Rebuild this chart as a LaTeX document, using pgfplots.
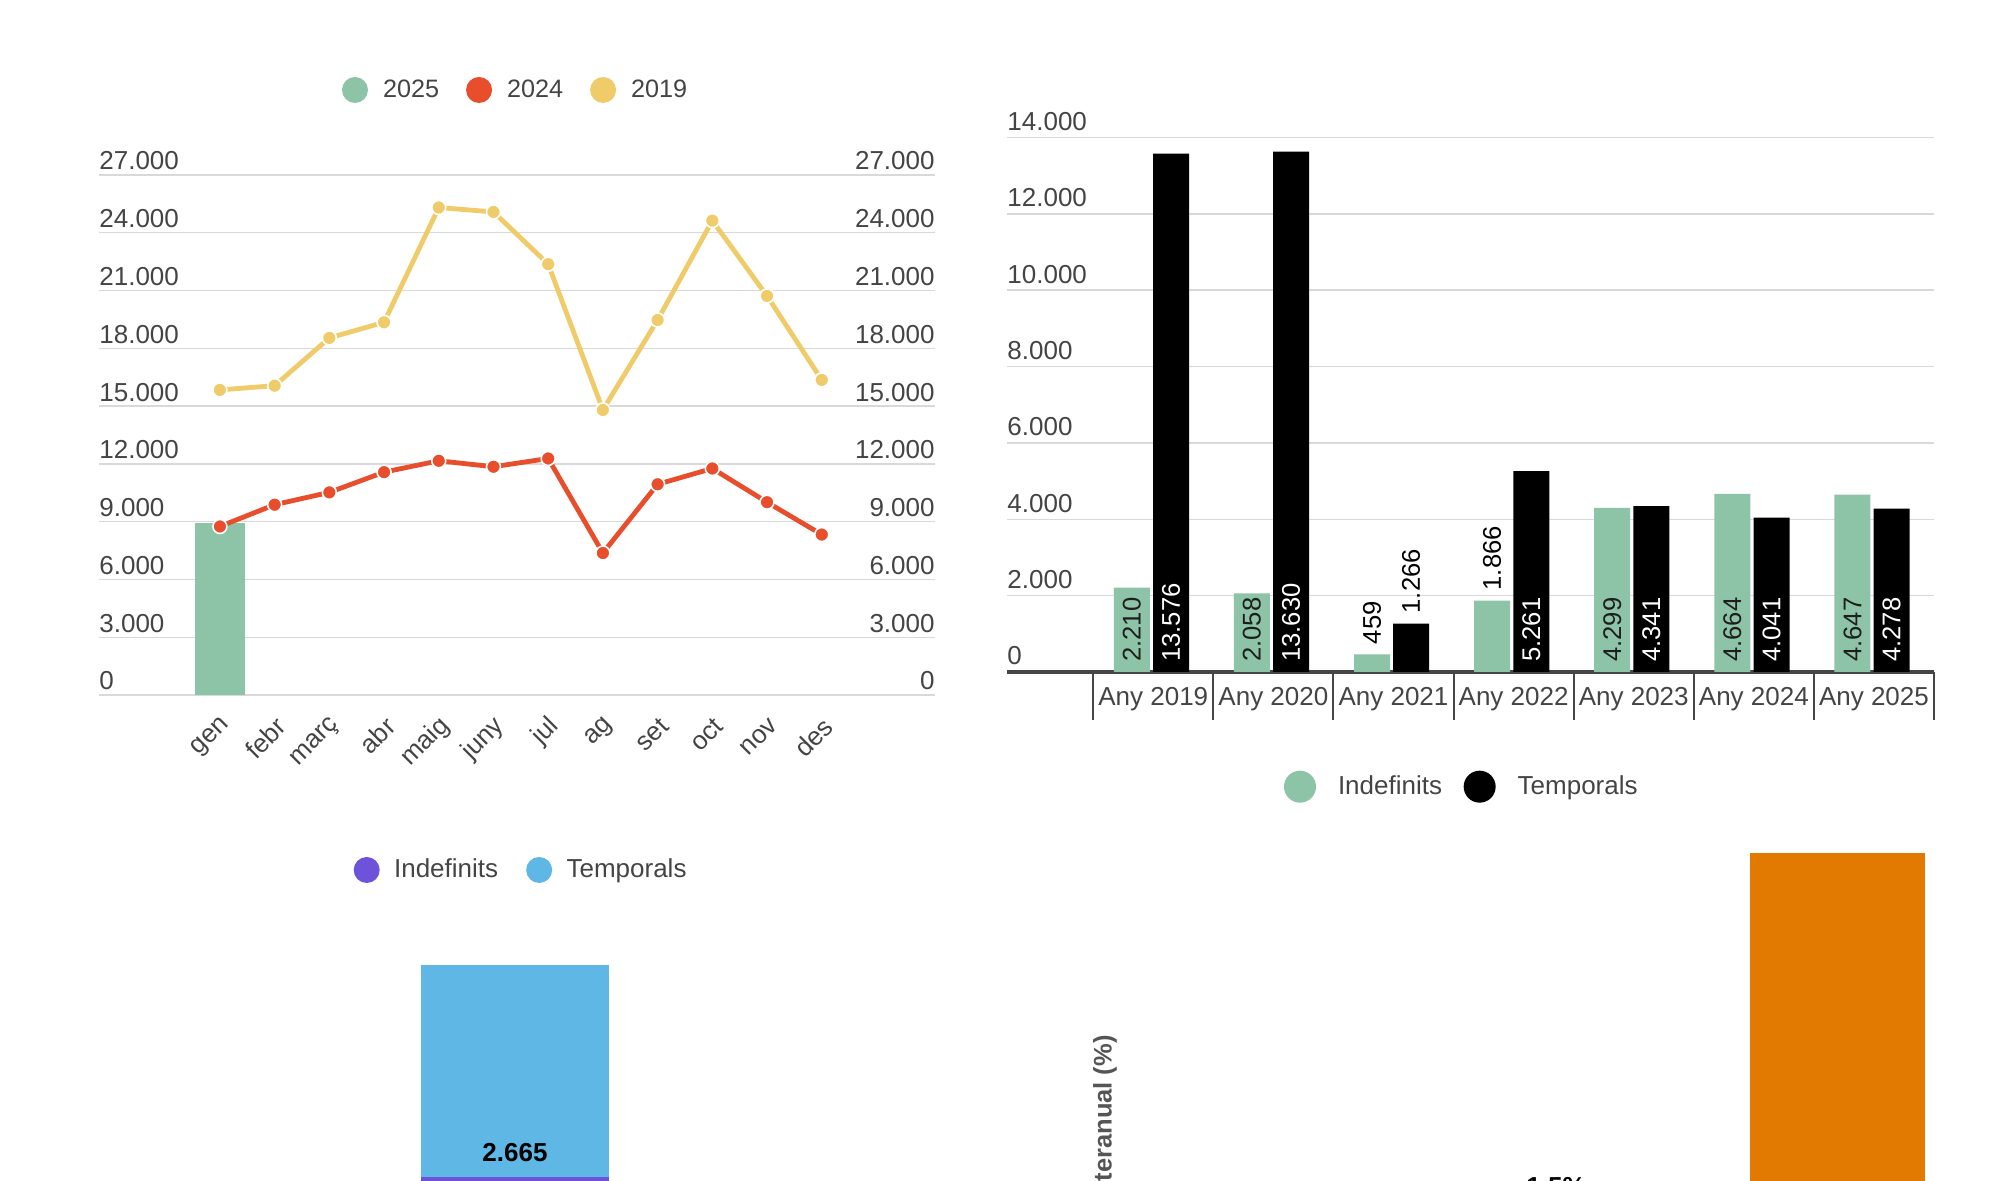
\documentclass[border=0pt]{standalone}
\usepackage{pgfplots}
\pgfplotsset{compat=1.18}
\usepackage{pgfplotstable}
\usepackage{fontspec}
\setmainfont{Liberation Sans}
\definecolor{cgreen}{HTML}{8DC3A7}
\definecolor{cred}{HTML}{E84E2C}
\definecolor{cyellow}{HTML}{F0CB69}
\definecolor{cpurple}{HTML}{6E52D9}
\definecolor{cblue}{HTML}{5EB7E5}
\definecolor{corange}{HTML}{E27900}
\definecolor{cgrid}{HTML}{D9D9D9}
\definecolor{ctext}{HTML}{444444}
\definecolor{caxis}{HTML}{454545}
\definecolor{clabel}{HTML}{1E1E1E}
\definecolor{cylab}{HTML}{555555}
\newcommand{\fs}[1]{\fontsize{#1}{#1}\selectfont}

\pgfplotstableread{
x y19 y24
0 15840 8750
1 16060 9880
2 18540 10520
3 19350 11570
4 25310 12160
5 25080 11850
6 22370 12280
7 14800 7370
8 19470 10940
9 24630 11760
10 20720 10010
11 16360 8330
}\monthly

% bar labels: one unit on the x axis of the yearly chart is 60.05pt,
% so the bar offsets -10.75pt and +8.85pt are -0.179 and +0.147 units
\pgfplotsset{
  barlab/.style={draw=none, mark=none, forget plot,
    point meta=explicit symbolic, nodes near coords,
    nodes near coords style={anchor=west, inner sep=0pt, inner xsep=5pt, font=\fs{12.8pt}, rotate=90}},
  greenpos/.style={x filter/.expression={x-0.179}},
  blackpos/.style={x filter/.expression={x+0.147}},
}

\begin{document}
\begin{tikzpicture}
\useasboundingbox (0,0) rectangle (997pt,590.5pt);
\clip (0,0) rectangle (997pt,590.5pt);

% ---------------- top left: monthly lines ----------------
\begin{axis}[
  scale only axis, width=418pt, height=260pt,
  at={(49.5pt,243pt)}, anchor=south west,
  xmin=-2.21, xmax=13.07, ymin=0, ymax=27000,
  axis line style={draw=none},
  major tick length=0pt,
  scaled y ticks=false,
  ytick={0,3000,...,27000},
  yticklabels={0,3.000,6.000,9.000,12.000,15.000,18.000,21.000,24.000,27.000},
  ymajorgrids, grid style={cgrid, line width=0.7pt},
  yticklabel style={anchor=base west, inner sep=0pt, yshift=2.5pt, font=\fs{13pt}, text=ctext},
  xtick={0,...,11},
  xticklabels={gen,febr,març,abr,maig,juny,jul,ag,set,oct,nov,des},
  xticklabel style={inner sep=0pt, font=\fs{13pt}, text=ctext, anchor=east, xshift=3.5pt, yshift=-13.5pt, rotate=45},
  clip=false,
]
\addplot[ybar, bar width=25pt, bar shift=0pt, fill=cgreen, draw=none] coordinates {(0,8925)};
\addplot[cyellow, line width=2.4pt, mark=*, mark size=3.5pt,
  mark options={solid, fill=cyellow, draw=white, line width=0.8pt}] table[x=x, y=y19] {\monthly};
\addplot[cred, line width=2.4pt, mark=*, mark size=3.5pt,
  mark options={solid, fill=cred, draw=white, line width=0.8pt}] table[x=x, y=y24] {\monthly};
\end{axis}

% right-side tick labels of the top-left chart
\begin{axis}[
  scale only axis, width=418pt, height=260pt,
  at={(49.5pt,243pt)}, anchor=south west,
  xmin=-2.21, xmax=13.07, ymin=0, ymax=27000,
  axis line style={draw=none}, major tick length=0pt,
  scaled y ticks=false,
  xtick=\empty,
  ytick={0,3000,...,27000},
  yticklabels={0,3.000,6.000,9.000,12.000,15.000,18.000,21.000,24.000,27.000},
  yticklabel pos=right,
  yticklabel style={anchor=base east, inner sep=0pt, yshift=2.5pt, font=\fs{13pt}, text=ctext},
]
\addplot[draw=none] coordinates {(0,0)};
\end{axis}

% legend top left
\begin{axis}[hide axis, scale only axis, width=10pt, height=10pt,
  at={(171pt,545.5pt)}, anchor=west, xmin=0, xmax=1, ymin=0, ymax=1,
  legend columns=-1,
  legend image code/.code={\fill[#1, draw=none] (6.5pt,0pt) circle (6.5pt);},
  legend style={at={(0,0.5)}, anchor=west, draw=none, fill=none, inner sep=0pt, outer sep=0pt,
    nodes={inner sep=0pt, text=ctext, font=\fs{12.6pt}},
    /tikz/every odd column/.append style={column sep=7.5pt},
    /tikz/every even column/.append style={column sep=13.5pt}},
]
\addlegendimage{fill=cgreen}\addlegendentry{2025}
\addlegendimage{fill=cred}\addlegendentry{2024}
\addlegendimage{fill=cyellow}\addlegendentry{2019}
\end{axis}

% ---------------- top right: yearly bars ----------------
\begin{axis}[
  scale only axis, width=463.5pt, height=267.25pt,
  at={(503.5pt,254.5pt)}, anchor=south west,
  xmin=-1.218, xmax=6.5, ymin=0, ymax=14000,
  axis line style={draw=none},
  major tick length=0pt,
  scaled y ticks=false,
  xtick pos=left, ytick pos=left,
  ytick={2000,4000,...,14000},
  yticklabels={2.000,4.000,6.000,8.000,10.000,12.000,14.000},
  ymajorgrids, grid style={cgrid, line width=0.7pt},
  yticklabel style={anchor=base west, inner sep=0pt, yshift=3.5pt, font=\fs{13pt}, text=ctext},
  extra y ticks={0}, extra y tick labels={0},
  extra y tick style={ymajorgrids=true, major grid style={caxis, line width=1.6pt}},
  xtick={0,...,6},
  xticklabels={Any 2019,Any 2020,Any 2021,Any 2022,Any 2023,Any 2024,Any 2025},
  xticklabel style={anchor=north, inner sep=0pt, yshift=-7.35pt, font=\fs{13pt}, text=ctext},
  extra x ticks={-0.5,0.5,...,6.5}, extra x tick labels={},
  extra x tick style={major tick length=24pt, tick align=outside, tick style={caxis, line width=1pt}},
  clip=false,
]
\addplot[ybar, bar width=18pt, bar shift=-10.75pt, fill=cgreen, draw=none]
  coordinates {(0,2210) (1,2058) (2,459) (3,1866) (4,4299) (5,4664) (6,4647)};
\addplot[ybar, bar width=18pt, bar shift=8.85pt, fill=black, draw=none]
  coordinates {(0,13576) (1,13630) (2,1266) (3,5261) (4,4341) (5,4041) (6,4278)};
% value labels inside the bars (written from the base of the bar)
\addplot[barlab, greenpos, nodes near coords style={text=clabel}]
  coordinates {(0,0) [2.210] (1,0) [2.058] (4,0) [4.299] (5,0) [4.664] (6,0) [4.647]};
\addplot[barlab, blackpos, nodes near coords style={text=white}]
  coordinates {(0,0) [13.576] (1,0) [13.630] (3,0) [5.261] (4,0) [4.341] (5,0) [4.041] (6,0) [4.278]};
% value labels above the small bars
\addplot[barlab, greenpos, nodes near coords style={text=black}]
  coordinates {(2,459) [459] (3,1866) [1.866]};
\addplot[barlab, blackpos, nodes near coords style={text=black}]
  coordinates {(2,1266) [1.266]};
\end{axis}

% legend top right
\begin{axis}[hide axis, scale only axis, width=10pt, height=10pt,
  at={(642pt,197.15pt)}, anchor=west, xmin=0, xmax=1, ymin=0, ymax=1,
  legend columns=-1,
  legend image code/.code={\fill[#1, draw=none] (8pt,0pt) circle (8pt);},
  legend style={at={(0,0.5)}, anchor=west, draw=none, fill=none, inner sep=0pt, outer sep=0pt,
    nodes={inner sep=0pt, text=ctext, font=\fs{13pt}},
    /tikz/every odd column/.append style={column sep=11pt},
    /tikz/every even column/.append style={column sep=10.8pt}},
]
\addlegendimage{fill=cgreen}\addlegendentry{Indefinits}
\addlegendimage{fill=black}\addlegendentry{Temporals}
\end{axis}

% ---------------- bottom left: stacked bar ----------------
\begin{axis}[hide axis, scale only axis, width=235pt, height=358pt,
  at={(140pt,-247pt)}, anchor=south west,
  xmin=-1, xmax=1, ymin=0, ymax=9000, ybar stacked, bar width=94pt, clip=false]
\addplot[fill=cpurple, draw=none] coordinates {(0,6260)};
\addplot[fill=cblue, draw=none] coordinates {(0,2665)};
\end{axis}
\node[anchor=base, inner sep=0pt, font=\bfseries\fs{13pt}, text=black] at (257.5pt,9.5pt) {2.665};

% legend bottom left
\begin{axis}[hide axis, scale only axis, width=10pt, height=10pt,
  at={(176.85pt,155.5pt)}, anchor=west, xmin=0, xmax=1, ymin=0, ymax=1,
  legend columns=-1,
  legend image code/.code={\fill[#1, draw=none] (6.5pt,0pt) circle (6.5pt);},
  legend style={at={(0,0.5)}, anchor=west, draw=none, fill=none, inner sep=0pt, outer sep=0pt,
    nodes={inner sep=0pt, text=ctext, font=\fs{13pt}},
    /tikz/every odd column/.append style={column sep=7.2pt},
    /tikz/every even column/.append style={column sep=14pt}},
]
\addlegendimage{fill=cpurple}\addlegendentry{Indefinits}
\addlegendimage{fill=cblue}\addlegendentry{Temporals}
\end{axis}

% ---------------- bottom right: year-on-year change ----------------
\begin{axis}[hide axis, scale only axis, width=401.125pt, height=200pt,
  at={(566.875pt,-24.5pt)}, anchor=south west,
  xmin=-1.5, xmax=1.35, ymin=0, ymax=20, clip=false]
\addplot[ybar, bar width=87.5pt, bar shift=0pt, fill=corange, draw=none,
  nodes near coords={1,5\%},
  nodes near coords style={anchor=south, inner sep=0pt, font=\bfseries\fs{13pt}, text=black}]
  coordinates {(0,1.5)};
\addplot[ybar, bar width=87.5pt, bar shift=0pt, fill=corange, draw=none]
  coordinates {(1,18.85)};
\end{axis}
\node[rotate=90, anchor=base east, inner sep=0pt, font=\bfseries\fs{12.75pt}, text=cylab]
  at (555.75pt,73pt) {Variació interanual (\%)};
\end{tikzpicture}
\end{document}
